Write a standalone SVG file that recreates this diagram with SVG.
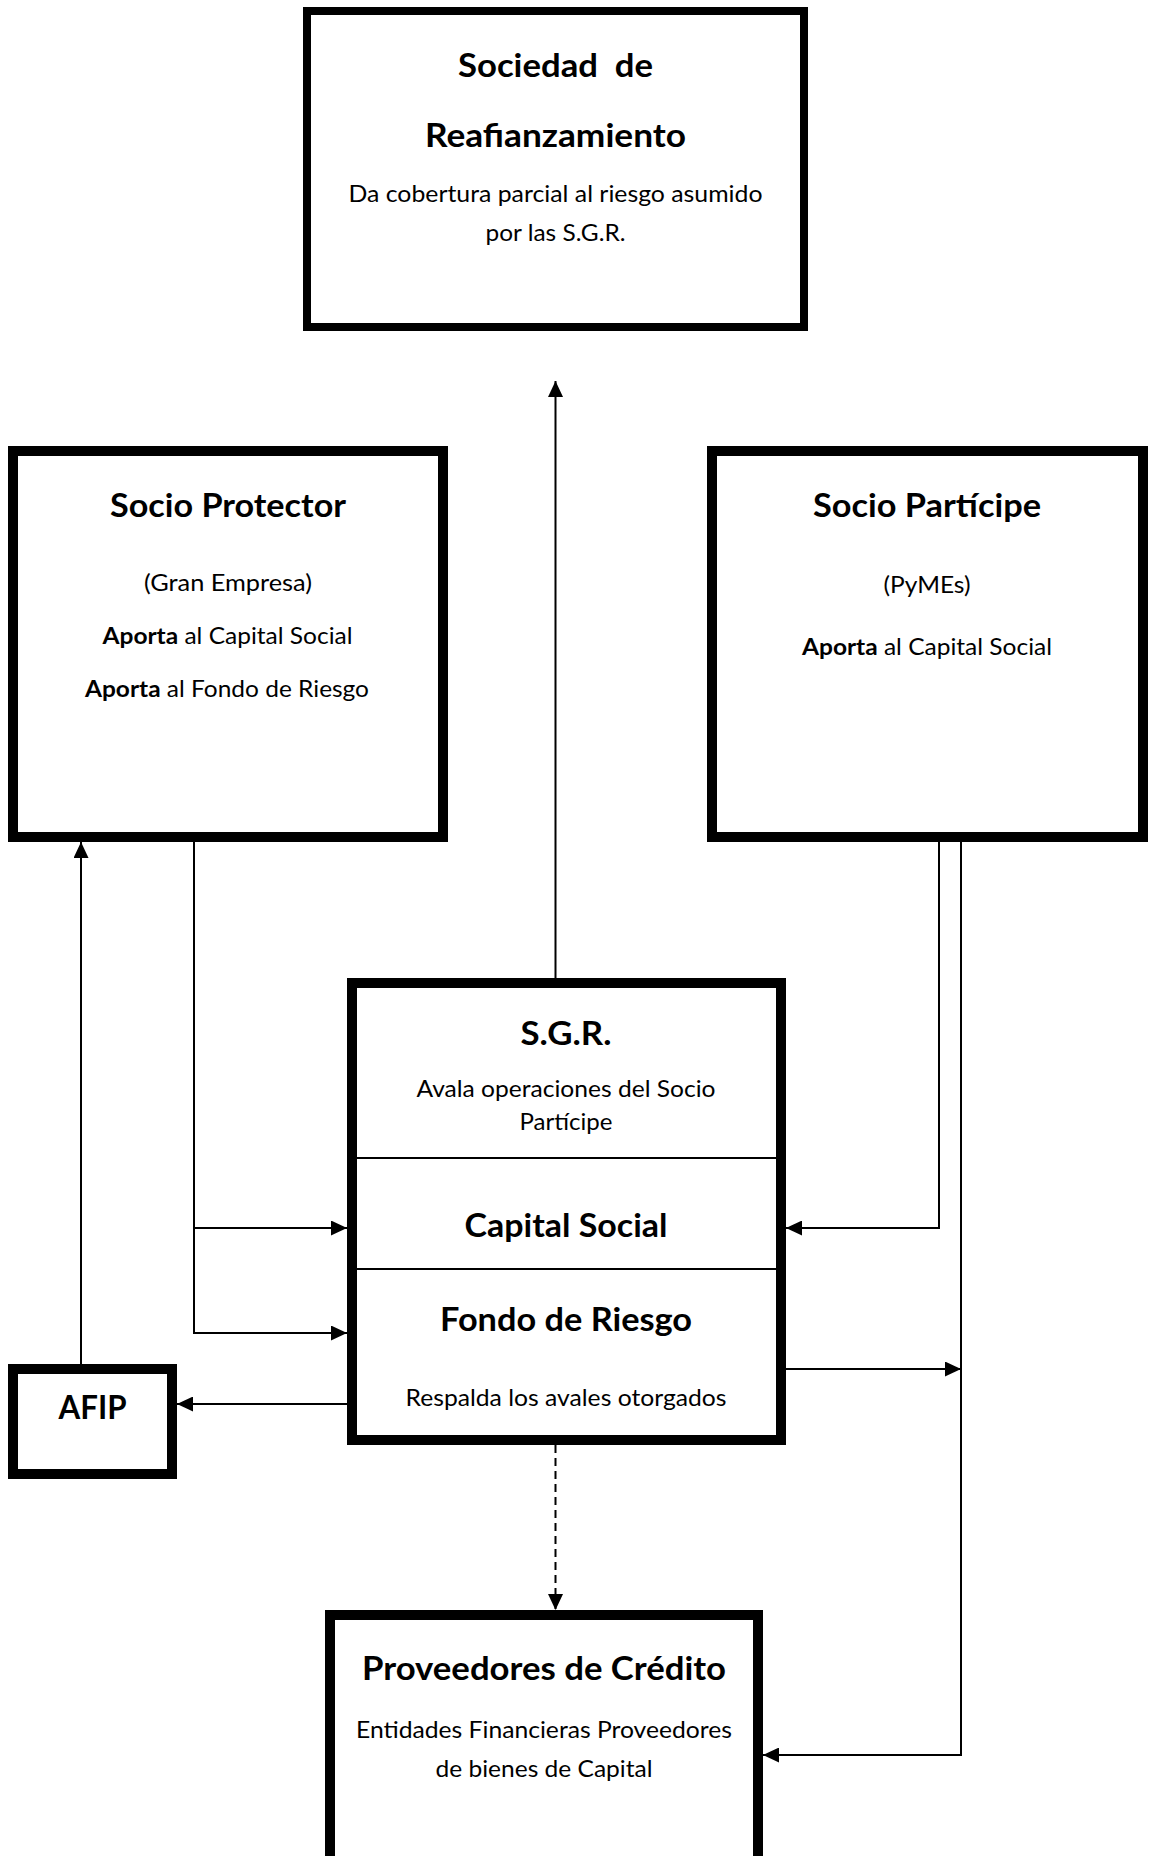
<svg xmlns="http://www.w3.org/2000/svg" width="1150" height="1856" viewBox="0 0 1150 1856">
<style>
.box{fill:#fff;stroke:#000;stroke-width:10}
.div{stroke:#000;stroke-width:2}
.c{fill:none;stroke:#000;stroke-width:2}
.d{fill:none;stroke:#000;stroke-width:2;stroke-dasharray:8 5}
text{font-family:Lato,"Liberation Sans",sans-serif;fill:#000;text-anchor:middle}
.t{font-size:32px;font-weight:bold}
.r{font-size:23.5px}
.b{font-weight:bold}
</style>
<defs>
<marker id="ah" markerUnits="userSpaceOnUse" markerWidth="16" markerHeight="15" refX="16" refY="7.5" orient="auto">
<path d="M0,0 L16,7.5 L0,15 z" fill="#000"/>
</marker>
</defs>
<rect x="0" y="0" width="1150" height="1856" fill="#fff"/>
<g id="connectors">
<path class="c" d="M555.5,978 V381" marker-end="url(#ah)"/>
<path class="c" d="M194,842 V1333 H347" marker-end="url(#ah)"/>
<path class="c" d="M194,1228 H347" marker-end="url(#ah)"/>
<path class="c" d="M81,1364 V842" marker-end="url(#ah)"/>
<path class="c" d="M347,1404 H177" marker-end="url(#ah)"/>
<path class="c" d="M939,842 V1228 H786" marker-end="url(#ah)"/>
<path class="c" d="M961,842 V1755 H763" marker-end="url(#ah)"/>
<path class="c" d="M786,1369 H961" marker-end="url(#ah)"/>
<path class="d" d="M555.5,1445 V1610" marker-end="url(#ah)"/>
</g>
<g id="sociedad-reafianzamiento">
<rect x="307" y="11" width="497" height="316" fill="#fff" stroke="#000" stroke-width="8"/>
<text x="555.5" y="77" class="t" textLength="195" lengthAdjust="spacingAndGlyphs" xml:space="preserve">Sociedad  de</text>
<text x="555.5" y="147" class="t" textLength="261" lengthAdjust="spacingAndGlyphs">Reafianzamiento</text>
<text x="555.5" y="202" class="r" textLength="414" lengthAdjust="spacingAndGlyphs">Da cobertura parcial al riesgo asumido</text>
<text x="555.5" y="241" class="r" textLength="140" lengthAdjust="spacingAndGlyphs">por las S.G.R.</text>
</g>
<g id="socio-protector">
<rect class="box" x="13" y="451" width="430" height="386"/>
<text x="228" y="517" class="t" textLength="236" lengthAdjust="spacingAndGlyphs">Socio Protector</text>
<text x="228" y="591" class="r" textLength="168" lengthAdjust="spacingAndGlyphs">(Gran Empresa)</text>
<text x="227.5" y="644" class="r" textLength="250" lengthAdjust="spacingAndGlyphs"><tspan class="b">Aporta</tspan> al Capital Social</text>
<text x="227" y="697" class="r" textLength="284" lengthAdjust="spacingAndGlyphs"><tspan class="b">Aporta</tspan> al Fondo de Riesgo</text>
</g>
<g id="socio-participe">
<rect class="box" x="712" y="451" width="431" height="386"/>
<text x="927" y="517" class="t" textLength="228" lengthAdjust="spacingAndGlyphs">Socio Partícipe</text>
<text x="927" y="593" class="r" textLength="87" lengthAdjust="spacingAndGlyphs">(PyMEs)</text>
<text x="927" y="655" class="r" textLength="250" lengthAdjust="spacingAndGlyphs"><tspan class="b">Aporta</tspan> al Capital Social</text>
</g>
<g id="sgr">
<rect class="box" x="352" y="983" width="429" height="457"/>
<line class="div" x1="352" y1="1158" x2="781" y2="1158"/>
<line class="div" x1="352" y1="1269" x2="781" y2="1269"/>
<text x="566" y="1045" class="t" textLength="91" lengthAdjust="spacingAndGlyphs">S.G.R.</text>
<text x="566" y="1097" class="r" textLength="299" lengthAdjust="spacingAndGlyphs">Avala operaciones del Socio</text>
<text x="566" y="1130" class="r" textLength="93" lengthAdjust="spacingAndGlyphs">Partícipe</text>
<text x="566" y="1237" class="t" textLength="203" lengthAdjust="spacingAndGlyphs">Capital Social</text>
<text x="566" y="1331" class="t" textLength="252" lengthAdjust="spacingAndGlyphs">Fondo de Riesgo</text>
<text x="566" y="1406" class="r" textLength="321" lengthAdjust="spacingAndGlyphs">Respalda los avales otorgados</text>
</g>
<g id="afip">
<rect class="box" x="13" y="1369" width="159" height="105"/>
<text x="92.5" y="1419" class="t" textLength="68" lengthAdjust="spacingAndGlyphs">AFIP</text>
</g>
<g id="proveedores-credito">
<rect class="box" x="330" y="1615" width="428" height="300"/>
<text x="544" y="1680" class="t" textLength="364" lengthAdjust="spacingAndGlyphs">Proveedores de Crédito</text>
<text x="544" y="1738" class="r" textLength="376" lengthAdjust="spacingAndGlyphs">Entidades Financieras Proveedores</text>
<text x="544" y="1777" class="r" textLength="217" lengthAdjust="spacingAndGlyphs">de bienes de Capital</text>
</g>
</svg>
